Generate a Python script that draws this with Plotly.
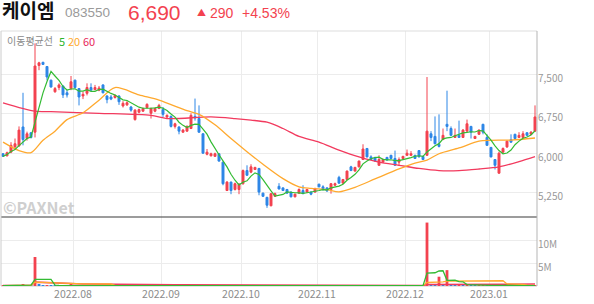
import plotly.graph_objects as go
import pandas as pd

# ---------------- data ----------------
holidays = ["2022-08-15", "2022-09-09", "2022-09-12", "2022-10-03", "2022-10-10", "2022-12-30"]
dates = [d for d in pd.bdate_range("2022-07-06", "2023-01-17") if d.strftime("%Y-%m-%d") not in holidays]

opens = [5990, 5950, 6020, 6120, 6140, 6500, 6280, 6390, 6400, 7670,
         7730, 7650, 7390, 7170, 7250, 7280, 7150, 7230, 7390, 7230,
         7090, 7140, 7250, 7210, 7200, 7300, 7090, 7070, 7060, 7090,
         6900, 6920, 6880, 6640, 6780, 6800, 6870, 6760, 6800, 6850,
         6830, 6690, 6700, 6510, 6500, 6400, 6420, 6470, 6700, 6660,
         6370, 5980, 5950, 5940, 5990, 5830, 5290, 5450, 5310, 5310,
         5420, 5670, 5640, 5690, 5710, 5240, 5160, 5000, 5180, 5370,
         5340, 5310, 5260, 5170, 5240, 5290, 5260, 5260, 5260, 5410,
         5360, 5340, 5310, 5390, 5540, 5430, 5500, 5740, 5660, 5740,
         5880, 6090, 5930, 5920, 5770, 5830, 5920, 5960, 5900, 5830,
         5900, 5960, 5960, 5960, 6050, 5940, 5960, 6370, 6320, 6170,
         6260, 6550, 6470, 6300, 6340, 6300, 6420, 6510, 6280, 6360,
         6550, 6300, 6110, 5880, 5620, 6020, 6120, 6260, 6360, 6300,
         6300, 6390, 6360, 6420]
highs = [6000, 6030, 6210, 6280, 6510, 7150, 6410, 6400, 8090, 7740,
         7740, 7650, 7400, 7260, 7330, 7290, 7200, 7470, 7400, 7240,
         7170, 7330, 7330, 7300, 7280, 7310, 7100, 7110, 7120, 7100,
         6990, 6990, 6900, 6840, 6850, 6870, 6950, 6870, 6870, 6940,
         6880, 6740, 6720, 6580, 6510, 6460, 6530, 6760, 7040, 6910,
         6380, 6080, 6010, 6010, 6000, 5840, 5470, 5460, 5440, 5430,
         5690, 5770, 5790, 5740, 5720, 5250, 5170, 5240, 5250, 5430,
         5350, 5320, 5270, 5230, 5330, 5390, 5320, 5270, 5340, 5420,
         5390, 5350, 5430, 5440, 5570, 5510, 5670, 5760, 5740, 5860,
         6170, 6100, 5960, 5930, 5960, 5900, 5930, 5970, 6050, 5920,
         5950, 6070, 6040, 5970, 6060, 5950, 7450, 6420, 6700, 6740,
         6470, 7190, 6510, 6470, 6620, 6460, 6640, 6520, 6330, 6450,
         6560, 6360, 6120, 5890, 6030, 6110, 6240, 6360, 6370, 6400,
         6420, 6400, 6420, 6910]
lows = [5930, 5940, 6000, 6060, 6120, 6150, 6240, 6280, 6300, 7580,
        7680, 7390, 7250, 7150, 7200, 7050, 7060, 7200, 7230, 6910,
        7030, 7100, 7190, 7200, 7180, 7140, 6950, 7010, 7040, 6920,
        6870, 6900, 6790, 6620, 6760, 6790, 6850, 6660, 6780, 6840,
        6690, 6670, 6490, 6470, 6360, 6390, 6410, 6460, 6620, 6390,
        5990, 5960, 5940, 5930, 5840, 5390, 5280, 5220, 5290, 5220,
        5400, 5570, 5620, 5680, 5200, 5170, 4960, 4990, 5170, 5310,
        5280, 5230, 5160, 5160, 5230, 5220, 5250, 5200, 5250, 5350,
        5290, 5270, 5230, 5380, 5420, 5420, 5490, 5660, 5650, 5730,
        5870, 5920, 5870, 5840, 5760, 5820, 5860, 5890, 5760, 5760,
        5890, 5950, 5950, 5890, 5920, 5870, 5950, 6230, 6170, 6110,
        6250, 6420, 6330, 6290, 6290, 6290, 6410, 6280, 6270, 6350,
        6360, 6140, 5920, 5690, 5610, 6010, 6100, 6200, 6270, 6290,
        6290, 6330, 6350, 6410]
closes = [5940, 6010, 6150, 6180, 6440, 6260, 6370, 6300, 7660, 7720,
          7690, 7450, 7260, 7230, 7300, 7110, 7110, 7360, 7250, 7070,
          7120, 7250, 7200, 7250, 7240, 7150, 7020, 7030, 7100, 6980,
          6950, 6960, 6820, 6820, 6830, 6850, 6930, 6850, 6850, 6910,
          6740, 6720, 6510, 6560, 6420, 6440, 6510, 6720, 6670, 6400,
          6000, 6020, 5990, 5990, 5850, 5420, 5450, 5290, 5420, 5410,
          5670, 5580, 5740, 5730, 5260, 5180, 5010, 5230, 5230, 5320,
          5290, 5240, 5170, 5220, 5310, 5230, 5310, 5220, 5330, 5360,
          5320, 5280, 5420, 5420, 5430, 5500, 5660, 5670, 5730, 5850,
          6080, 5930, 5880, 5850, 5880, 5880, 5870, 5900, 5770, 5880,
          5940, 6000, 5990, 5900, 5930, 5880, 6420, 6300, 6180, 6130,
          6340, 6510, 6340, 6340, 6300, 6440, 6560, 6400, 6320, 6440,
          6400, 6150, 5930, 5770, 6000, 6090, 6230, 6210, 6280, 6340,
          6370, 6340, 6400, 6690]
volumes = [90000, 120000, 150000, 110000, 160000, 440000, 130000, 90000, 6400000, 420000,
           150000, 180000, 120000, 100000, 90000, 110000, 70000, 230000, 120000, 130000,
           80000, 100000, 70000, 60000, 80000, 90000, 70000, 60000, 50000, 80000,
           70000, 60000, 80000, 90000, 60000, 50000, 70000, 80000, 60000, 70000,
           90000, 60000, 100000, 70000, 80000, 60000, 70000, 120000, 150000, 130000,
           160000, 90000, 60000, 50000, 70000, 150000, 110000, 90000, 70000, 80000,
           120000, 90000, 80000, 60000, 140000, 90000, 110000, 100000, 60000, 70000,
           60000, 50000, 70000, 60000, 80000, 90000, 60000, 50000, 70000, 80000,
           60000, 50000, 70000, 60000, 90000, 70000, 100000, 80000, 70000, 90000,
           180000, 110000, 70000, 60000, 80000, 60000, 50000, 70000, 90000, 60000,
           70000, 80000, 60000, 70000, 90000, 60000, 14000000, 250000, 200000, 2050000,
           300000, 3500000, 400000, 250000, 300000, 200000, 350000, 150000, 120000, 130000,
           160000, 140000, 150000, 170000, 200000, 120000, 110000, 90000, 80000, 70000,
           80000, 60000, 70000, 180000]

# moving averages (20 and 60 days need history before the window)
ma20_idx = [0, 4, 7, 10, 13, 16, 20, 24, 28, 34, 39, 46, 49, 53, 57, 61, 65, 70, 74, 77,
            81, 84, 88, 93, 99, 103, 106, 109, 114, 119, 122, 127, 133]
ma20_val = [6210, 6050, 6010, 6246, 6420, 6640, 6770, 7010, 7250, 7110, 7010, 6810, 6740,
            6540, 6280, 6030, 5790, 5516, 5360, 5330, 5306, 5265, 5350, 5510, 5700, 5810,
            5870, 5990, 6100, 6230, 6246, 6250, 6290]
ma60_idx = [0, 8, 12, 24, 37, 41, 52, 58, 62, 66, 70, 74, 79, 84, 89, 94, 99, 104, 109,
            114, 119, 124, 129, 133]
ma60_val = [6960, 6800, 6790, 6760, 6720, 6660, 6690, 6660, 6630, 6590, 6470, 6320, 6210,
            6060, 5930, 5830, 5770, 5710, 5670, 5670, 5700, 5740, 5840, 5935]

price_ticks = [5250, 6000, 6750, 7500]
vol_ticks = [5000000, 10000000]
vol_tick_text = ["5M", "10M"]

name = "케이엠"
code = "083550"
last_price = "6,690"
change = "290"
change_pct = "+4.53%"

# ---------------- styles ----------------
RED = "#F3424F"
BLUE = "#2D86E6"
GREEN = "#33BB33"
ORANGE = "#FFA92E"
CRIMSON = "#F23A5E"
FONT = "Noto Sans CJK KR"
NUMFONT = "Liberation Sans"

x = list(range(len(dates)))
cl = pd.Series(closes)
ma5 = cl.rolling(5, min_periods=1).mean()
vs = pd.Series(volumes)
vma5 = vs.rolling(5, min_periods=1).mean()
vma20 = vs.rolling(20, min_periods=1).mean()
vma60 = vs.rolling(60, min_periods=1).mean()
vol_colors = [RED if i == 0 or volumes[i] >= volumes[i - 1] else BLUE for i in range(len(volumes))]

fig = go.Figure()
fig.add_trace(go.Scatter(x=ma60_idx, y=ma60_val, mode="lines", line=dict(color=CRIMSON, width=1.3, shape="spline", smoothing=0.8), yaxis="y"))
fig.add_trace(go.Scatter(x=ma20_idx, y=ma20_val, mode="lines", line=dict(color=ORANGE, width=1.3, shape="spline", smoothing=0.8), yaxis="y"))
fig.add_trace(go.Candlestick(x=x, open=opens, high=highs, low=lows, close=closes,
                             increasing=dict(line=dict(color=RED, width=1), fillcolor=RED),
                             decreasing=dict(line=dict(color=BLUE, width=1), fillcolor=BLUE),
                             whiskerwidth=0, yaxis="y"))
fig.add_trace(go.Scatter(x=x, y=ma5, mode="lines", line=dict(color=GREEN, width=1.2), yaxis="y"))

fig.add_trace(go.Bar(x=x, y=volumes, marker=dict(color=vol_colors, line=dict(width=0)), width=0.7, yaxis="y2"))
fig.add_trace(go.Scatter(x=x, y=vma60, mode="lines", line=dict(color=CRIMSON, width=1.5), yaxis="y2"))
fig.add_trace(go.Scatter(x=x, y=vma20, mode="lines", line=dict(color=ORANGE, width=1.3), yaxis="y2"))
fig.add_trace(go.Scatter(x=x, y=vma5, mode="lines", line=dict(color=GREEN, width=1.3), yaxis="y2"))

# month ticks at the boundary before the first trading day of each month
month_pos, month_txt = [], []
for i, d in enumerate(dates):
    if i > 0 and d.month != dates[i - 1].month:
        month_pos.append(i - 0.5)
        month_txt.append(d.strftime("%Y.%m"))

# pixel geometry of the plot area
L, R, T, B = 1.3, 537.3, 31, 286
SPLIT = 217
vol_frac = (B - SPLIT) / (B - T)

def px(xp):
    return (xp - L) / (R - L)

def py(yp):
    return (B - yp) / (B - T)

fig.update_layout(
    width=594, height=304,
    margin=dict(l=L, r=594 - R, t=T, b=304 - B),
    paper_bgcolor="white", plot_bgcolor="white",
    showlegend=False,
    font=dict(family=FONT, color="#999999", size=10),
    xaxis=dict(range=[-0.5, len(dates) - 0.5], anchor="y2", tickvals=month_pos, ticktext=month_txt,
               showgrid=True, gridcolor="#ececec", gridwidth=1, zeroline=False,
               showline=False, ticks="", tickfont=dict(size=10.5, color="#8c8c8c"),
               rangeslider=dict(visible=False), fixedrange=True),
    yaxis=dict(domain=[vol_frac, 1], range=[4786, 8326], side="right", tickvals=price_ticks,
               ticktext=[f"{v:,}" for v in price_ticks], showgrid=True, gridcolor="#ececec",
               zeroline=False, ticks="", tickfont=dict(size=10, color="#999999"), ticklabelshift=4),
    yaxis2=dict(domain=[0, vol_frac], range=[0, 15230000], side="right", tickvals=vol_ticks,
                ticktext=vol_tick_text, showgrid=True, gridcolor="#ececec", zeroline=False,
                ticks="", tickfont=dict(size=10, color="#999999"), ticklabelshift=4),
    bargap=0.3,
)

shapes = [
    dict(type="line", xref="paper", yref="paper", x0=0, x1=1, y0=vol_frac, y1=vol_frac, line=dict(color="#3a3a3a", width=1.2)),
    dict(type="line", xref="paper", yref="paper", x0=0, x1=1, y0=1, y1=1, line=dict(color="#dddddd", width=1)),
    dict(type="line", xref="paper", yref="paper", x0=0, x1=0, y0=0, y1=1, line=dict(color="#cccccc", width=1)),
    dict(type="line", xref="paper", yref="paper", x0=1, x1=1, y0=0, y1=1, line=dict(color="#b5b5b5", width=1)),
    dict(type="line", xref="paper", yref="paper", x0=0, x1=1, y0=0, y1=0, line=dict(color="#cccccc", width=1), layer="below"),
]
fig.update_layout(shapes=shapes)

ann = []
def add_text(text, xp, yp, size, color, bold=False, family=FONT):
    ann.append(dict(text=f"<b>{text}</b>" if bold else text, xref="paper", yref="paper",
                    x=px(xp), y=py(yp), xanchor="left", yanchor="middle", showarrow=False,
                    borderpad=0, font=dict(family=family, size=size, color=color)))

add_text(name, 1, 11, 19, "#111111", bold=True, family=NUMFONT + ", " + FONT)
add_text(code, 64, 12.5, 13.5, "#9a9a9a", family=NUMFONT)
add_text(last_price, 127, 12.3, 21, RED, family=NUMFONT)
add_text("▲", 196, 12.5, 9, RED)
add_text(change, 209, 12.5, 14, RED, family=NUMFONT)
add_text(change_pct, 241, 12.5, 14, RED, family=NUMFONT)
add_text("이동평균선", 6, 41, 10, "#8a8a8a")
add_text("5", 58, 41, 11, "#2DB52D")
add_text("20", 67, 41, 11, ORANGE)
add_text("60", 82, 41, 11, "#E8265A")
add_text("©PAXNet", 2, 207, 16, "#cfcfcf", bold=True)
fig.update_layout(annotations=ann)

fig.write_html("out.html")
